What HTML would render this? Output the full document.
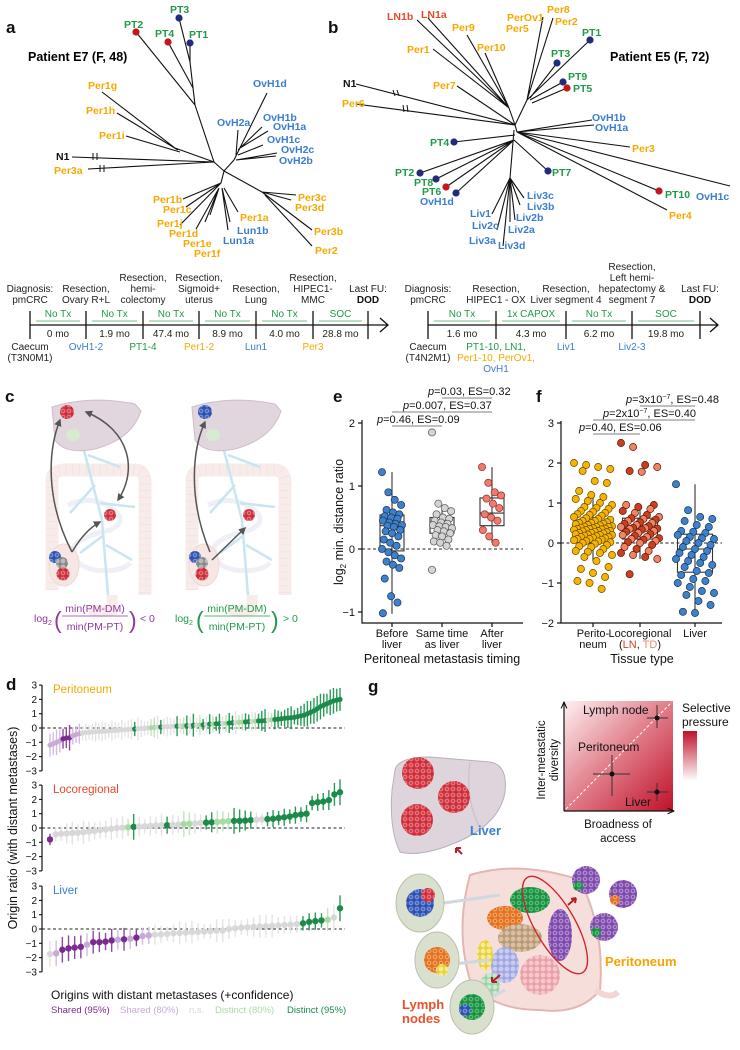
<!DOCTYPE html>
<html><head><meta charset="utf-8">
<style>
html,body{margin:0;padding:0;background:#fff;}
svg{display:block;font-family:"Liberation Sans",sans-serif;}
.t{font-size:10.5px;font-weight:bold}
.o{fill:#f6a800}.bl{fill:#3b7dd0}.g{fill:#1f9a48}.r{fill:#e64a2a}.k{fill:#111}
.pl{font-size:17px;font-weight:bold;fill:#111}
.tl{font-size:10px;fill:#222}
.ax{stroke:#111;stroke-width:1.2;fill:none}
.tk{font-size:11px;fill:#111}
</style></head><body>
<svg id="fig" width="740" height="1050" viewBox="0 0 740 1050">
<defs>
  <marker id="arr" viewBox="0 0 10 10" refX="8" refY="5" markerWidth="5" markerHeight="5" orient="auto-start-reverse"><path d="M0,0 L10,5 L0,10 Z" fill="#555"/></marker>
  <marker id="arrK" viewBox="0 0 10 10" refX="9" refY="5" markerWidth="6" markerHeight="6" orient="auto"><path d="M0,1 L9,5 L0,9" fill="none" stroke="#111" stroke-width="1.5"/></marker>
  <linearGradient id="heat" x1="0" y1="0" x2="1" y2="1"><stop offset="0" stop-color="#fdf1f2"/><stop offset="0.5" stop-color="#e07c88"/><stop offset="1" stop-color="#c0102a"/></linearGradient>
  <linearGradient id="sel" x1="0" y1="0" x2="0" y2="1"><stop offset="0" stop-color="#c0102a"/><stop offset="1" stop-color="#fff"/></linearGradient>
  <pattern id="cR" width="6" height="6" patternUnits="userSpaceOnUse"><rect width="6" height="6" fill="#c9303c"/><circle cx="3" cy="3" r="2.4" fill="#ec6f78"/><circle cx="3" cy="3" r=".7" fill="#8a1020"/></pattern>
  <pattern id="cB" width="6" height="6" patternUnits="userSpaceOnUse"><rect width="6" height="6" fill="#2f4fa8"/><circle cx="3" cy="3" r="2.4" fill="#6d8fe0"/><circle cx="3" cy="3" r=".7" fill="#1a2a6a"/></pattern>
  <pattern id="cG" width="6" height="6" patternUnits="userSpaceOnUse"><rect width="6" height="6" fill="#1e8c45"/><circle cx="3" cy="3" r="2.4" fill="#4cc070"/><circle cx="3" cy="3" r=".7" fill="#0d4a20"/></pattern>
  <pattern id="cO" width="6" height="6" patternUnits="userSpaceOnUse"><rect width="6" height="6" fill="#e4702a"/><circle cx="3" cy="3" r="2.4" fill="#f7a050"/><circle cx="3" cy="3" r=".7" fill="#8a3a10"/></pattern>
  <pattern id="cP" width="6" height="6" patternUnits="userSpaceOnUse"><rect width="6" height="6" fill="#7d4aa8"/><circle cx="3" cy="3" r="2.4" fill="#b087d6"/><circle cx="3" cy="3" r=".7" fill="#3d1a60"/></pattern>
  <pattern id="cT" width="6" height="6" patternUnits="userSpaceOnUse"><rect width="6" height="6" fill="#b89a7a"/><circle cx="3" cy="3" r="2.4" fill="#d9c0a0"/></pattern>
  <pattern id="cK" width="6" height="6" patternUnits="userSpaceOnUse"><rect width="6" height="6" fill="#e9a0a8"/><circle cx="3" cy="3" r="2.4" fill="#f6c8cc"/></pattern>
  <pattern id="cL" width="6" height="6" patternUnits="userSpaceOnUse"><rect width="6" height="6" fill="#a0a8e0"/><circle cx="3" cy="3" r="2.4" fill="#c8ccf2"/></pattern>
  <pattern id="cM" width="6" height="6" patternUnits="userSpaceOnUse"><rect width="6" height="6" fill="#9fd0a8"/><circle cx="3" cy="3" r="2.4" fill="#c8ead0"/></pattern>
  <pattern id="cY" width="6" height="6" patternUnits="userSpaceOnUse"><rect width="6" height="6" fill="#e8d040"/><circle cx="3" cy="3" r="2.4" fill="#f8ec90"/></pattern>
  <pattern id="cA" width="6" height="6" patternUnits="userSpaceOnUse"><rect width="6" height="6" fill="#888"/><circle cx="3" cy="3" r="2.4" fill="#bbb"/></pattern>
  <g id="body">
    <path d="M12,195 L12,85 Q12,75 25,75 L95,75 Q105,75 105,88 L105,200" fill="none" stroke="#f7ecea" stroke-width="13"/>
    <path d="M12,195 L12,85 Q12,75 25,75 L95,75 Q105,75 105,88 L105,200" fill="none" stroke="#efdcd8" stroke-width="11" stroke-dasharray="0.8 6" opacity=".6"/>
    <path d="M28,110 Q50,100 70,112 Q90,125 70,135 Q45,140 35,150 Q30,170 55,175 Q80,178 90,168" fill="none" stroke="#eef0f5" stroke-width="5"/>
    <path d="M72,200 L72,215 Q60,218 50,214" fill="none" stroke="#f7ecea" stroke-width="11"/>
    <path d="M40,40 L62,125 L68,200 M48,60 L80,72 M55,90 L30,118 M60,108 L95,112 M64,140 L40,158 M66,150 L92,165" fill="none" stroke="#c8e5f1" stroke-width="2.5"/>
    <path d="M12,12 Q50,0 95,9 L101,16 Q92,44 55,54 Q25,60 15,45 Z" fill="#e2d6de" stroke="#cdbdc8" stroke-width="1"/>
    <ellipse cx="33" cy="40" rx="7" ry="6" fill="#d6ebcf"/>
    <ellipse cx="24" cy="170" rx="15" ry="21" fill="#f6e7e4" stroke="#eed8d4"/>
  </g>
</defs>

<!-- ============ PANEL A ============ -->
<g>
<text class="pl" x="6" y="33">a</text>
<text x="28" y="61" font-size="12.5" font-weight="bold">Patient E7 (F, 48)</text>
<path fill="none" stroke="#111" stroke-width="1.1" d="
M214,162 L195,105 M195,105 L136,32 M195,105 L190,62 M190,62 L179,18 M190,62 L190,43 M193,88 L168,42
M214,162 L175,148 M175,148 L102,92 M178,150 L117,113 M180,152 L126,136
M214,162 L72,157 M214,162 L88,169
M214,162 L224,171 M224,171 L234,160 M234,160 L267,93 M236,155 L238,130 M238,150 L262,127 M240,148 L268,131 M238,155 L263,145 M236,160 L277,153 M236,160 L276,156
M224,171 L221,183 M221,183 L183,199 M221,183 L186,207 M221,183 L180,225 M219,188 L196,229 M219,188 L205,222 M219,188 L210,215 M222,188 L228,230 M222,188 L230,222 M224,188 L238,212
M224,171 L262,192 M262,192 L296,195 M262,192 L291,200 M262,192 L312,230 M265,195 L312,246"/>
<path d="M93,153 L93,160 M97,153 L97,160 M100,165 L100,172 M104,165 L104,172" stroke="#111" stroke-width="1"/>
<g>
<circle cx="179" cy="18" r="3.6" fill="#232c7c"/><circle cx="136" cy="32" r="3.6" fill="#c4161c"/><circle cx="168" cy="42" r="3.6" fill="#c4161c"/><circle cx="190" cy="43" r="3.6" fill="#232c7c"/>
</g>
<g class="t">
<text class="g" x="170" y="13">PT3</text><text class="g" x="124" y="28">PT2</text><text class="g" x="155" y="37">PT4</text><text class="g" x="189" y="38">PT1</text>
<text class="o" x="88" y="89">Per1g</text><text class="o" x="86" y="114">Per1h</text><text class="o" x="99" y="139">Per1i</text>
<text class="k" x="56" y="160">N1</text><text class="o" x="54" y="174">Per3a</text>
<text class="bl" x="253" y="87">OvH1d</text><text class="bl" x="217" y="126">OvH2a</text><text class="bl" x="263" y="121">OvH1b</text><text class="bl" x="273" y="130">OvH1a</text><text class="bl" x="267" y="143">OvH1c</text><text class="bl" x="281" y="153">OvH2c</text><text class="bl" x="279" y="164">OvH2b</text>
<text class="o" x="153" y="203">Per1b</text><text class="o" x="163" y="213">Per1c</text><text class="o" x="157" y="227">Per1j</text><text class="o" x="169" y="237">Per1d</text><text class="o" x="183" y="247">Per1e</text><text class="o" x="194" y="257">Per1f</text>
<text class="o" x="240" y="221">Per1a</text><text class="bl" x="237" y="234">Lun1b</text><text class="bl" x="223" y="244">Lun1a</text>
<text class="o" x="298" y="201">Per3c</text><text class="o" x="295" y="211">Per3d</text><text class="o" x="314" y="235">Per3b</text><text class="o" x="315" y="254">Per2</text>
</g>
<g id="tlA"></g>
</g>

<!-- ============ PANEL B ============ -->
<g>
<text class="pl" x="328" y="33">b</text>
<text x="610" y="61" font-size="12.5" font-weight="bold">Patient E5 (F, 72)</text>
<path fill="none" stroke="#111" stroke-width="1.1" d="
M515,125 L509,108 M509,108 L417,20 M509,108 L428,18 M509,108 L467,35 M509,108 L485,53 M509,108 L433,49
M515,125 L457,86 M515,125 L356,84 M515,125 L356,104
M515,125 L527,100 M527,100 L543,17 M527,100 L553,18 M527,100 L590,40 M530,98 L557,63 M530,100 L563,82 M532,103 L567,88
M515,125 L517,132 M517,132 L592,120 M517,132 L594,125 M517,132 L630,147 M517,132 L659,191 M517,132 L667,210 M517,132 L730,186
M515,135 L454,142 M514,140 L548,171 M514,140 L420,173 M514,140 L436,179 M514,140 L446,187 M514,140 L456,193
M514,130 L510,178 M510,178 L492,214 M510,178 L497,230 M510,178 L503,246 M510,178 L510,222 M510,178 L515,220 M510,178 L520,205 M510,178 L524,198"/>
<path d="M393,90 L395,96 M397,90 L399,96 M403,105 L404,112 M407,105 L408,112" stroke="#111" stroke-width="1"/>
<g>
<circle cx="590" cy="40" r="3.6" fill="#232c7c"/><circle cx="557" cy="63" r="3.6" fill="#232c7c"/><circle cx="563" cy="82" r="3.6" fill="#232c7c"/><circle cx="567" cy="88" r="3.6" fill="#c4161c"/>
<circle cx="454" cy="142" r="3.6" fill="#232c7c"/><circle cx="548" cy="171" r="3.6" fill="#232c7c"/><circle cx="420" cy="173" r="3.6" fill="#232c7c"/><circle cx="436" cy="179" r="3.6" fill="#232c7c"/><circle cx="446" cy="187" r="3.6" fill="#c4161c"/><circle cx="456" cy="193" r="3.6" fill="#232c7c"/><circle cx="659" cy="191" r="3.6" fill="#c4161c"/>
</g>
<g class="t">
<text class="r" x="387" y="20">LN1b</text><text class="r" x="421" y="18">LN1a</text><text class="o" x="452" y="31">Per9</text><text class="o" x="477" y="51">Per10</text><text class="o" x="407" y="53">Per1</text><text class="o" x="433" y="89">Per7</text>
<text class="o" x="507" y="21">PerOv1</text><text class="o" x="506" y="32">Per5</text><text class="o" x="547" y="13">Per8</text><text class="o" x="555" y="25">Per2</text>
<text class="g" x="582" y="36">PT1</text><text class="g" x="551" y="57">PT3</text><text class="g" x="568" y="80">PT9</text><text class="g" x="573" y="92">PT5</text>
<text class="bl" x="592" y="121">OvH1b</text><text class="bl" x="595" y="131">OvH1a</text><text class="o" x="632" y="152">Per3</text>
<text class="g" x="430" y="146">PT4</text><text class="g" x="552" y="176">PT7</text><text class="g" x="395" y="176">PT2</text><text class="g" x="414" y="186">PT8</text><text class="g" x="422" y="195">PT6</text><text class="bl" x="420" y="205">OvH1d</text>
<text class="bl" x="527" y="199">Liv3c</text><text class="bl" x="527" y="210">Liv3b</text><text class="bl" x="516" y="221">Liv2b</text><text class="bl" x="508" y="233">Liv2a</text><text class="bl" x="498" y="249">Liv3d</text><text class="bl" x="469" y="244">Liv3a</text><text class="bl" x="472" y="229">Liv2c</text><text class="bl" x="470" y="217">Liv1</text>
<text class="g" x="665" y="198">PT10</text><text class="bl" x="696" y="200">OvH1c</text><text class="o" x="669" y="219">Per4</text>
<text class="k" x="343" y="87">N1</text><text class="o" x="342" y="107">Per6</text>
</g>
<g id="tlB"></g>
</g>

<!-- ============ PANEL C ============ -->
<g>
<text class="pl" x="5" y="402">c</text>
<use href="#body" x="40" y="395"/>
<use href="#body" x="180" y="395"/>
<g>
<circle cx="67" cy="412" r="7" fill="url(#cR)"/><circle cx="110" cy="515" r="6" fill="url(#cR)"/>
<circle cx="55" cy="557" r="6" fill="url(#cB)"/><circle cx="62" cy="563" r="6" fill="url(#cA)"/><circle cx="63" cy="574" r="6.5" fill="url(#cR)"/>
<circle cx="205" cy="412" r="7" fill="url(#cB)"/><circle cx="249" cy="515" r="6" fill="url(#cR)"/>
<circle cx="195" cy="557" r="6" fill="url(#cB)"/><circle cx="202" cy="563" r="6" fill="url(#cA)"/><circle cx="202" cy="574" r="6.5" fill="url(#cR)"/>
</g>
<g fill="none" stroke="#555" stroke-width="1.5">
<path d="M72,552 C45,500 48,450 60,420" marker-end="url(#arr)"/>
<path d="M72,552 Q85,530 100,522" marker-end="url(#arr)"/>
<path d="M118,500 C138,470 130,430 86,412" marker-end="url(#arr)" marker-start="url(#arr)"/>
<path d="M210,552 C188,500 192,450 205,422" marker-end="url(#arr)"/>
<path d="M212,560 L245,528" marker-end="url(#arr)"/>
</g>
<g fill="#8e3aa0" font-size="10.5">
<text x="34" y="622">log<tspan font-size="7" dy="3">2</tspan></text>
<text x="54" y="628" font-size="23">(</text>
<text x="95" y="612" text-anchor="middle">min(PM-DM)</text>
<line x1="62" y1="616" x2="128" y2="616" stroke="#8e3aa0" stroke-width="0.8"/>
<text x="95" y="630" text-anchor="middle">min(PM-PT)</text>
<text x="129" y="628" font-size="23">)</text>
<text x="140" y="622">&lt; 0</text>
</g>
<g fill="#1f9a48" font-size="10.5">
<text x="175" y="622">log<tspan font-size="7" dy="3">2</tspan></text>
<text x="196" y="628" font-size="23">(</text>
<text x="237" y="612" text-anchor="middle">min(PM-DM)</text>
<line x1="204" y1="616" x2="270" y2="616" stroke="#1f9a48" stroke-width="0.8"/>
<text x="237" y="630" text-anchor="middle">min(PM-PT)</text>
<text x="271" y="628" font-size="23">)</text>
<text x="283" y="622">&gt; 0</text>
</g>
</g>

<text class="pl" x="333" y="402">e</text>
<text class="pl" x="536" y="402">f</text>
<text class="pl" x="6" y="690">d</text>
<g id="pe"></g>
<g id="pf"></g>
<g id="pd"></g>

<!-- ============ PANEL G ============ -->
<g>
<text class="pl" x="368" y="692">g</text>
<g>
<rect x="564" y="701" width="109" height="110" fill="url(#heat)"/>
<line x1="566" y1="809" x2="672" y2="702" stroke="#fff" stroke-width="1" stroke-dasharray="3 2"/>
<path d="M564,811 L564,702" class="ax" marker-end="url(#arrK)"/>
<path d="M564,811 L674,811" class="ax" marker-end="url(#arrK)"/>
<g stroke="#333" stroke-width="1"><line x1="647" y1="718" x2="668" y2="718"/><line x1="657" y1="705" x2="657" y2="728"/>
<line x1="593" y1="774" x2="630" y2="774"/><line x1="612" y1="755" x2="612" y2="796"/>
<line x1="647" y1="792" x2="668" y2="792"/><line x1="657" y1="783" x2="657" y2="801"/></g>
<circle cx="657" cy="718" r="2.5" fill="#111"/><circle cx="612" cy="774" r="2.5" fill="#111"/><circle cx="657" cy="792" r="2.5" fill="#111"/>
<text x="583" y="714" font-size="12" fill="#111">Lymph node</text>
<text x="578" y="751" font-size="12" fill="#111">Peritoneum</text>
<text x="625" y="806" font-size="12" fill="#111">Liver</text>
<text transform="translate(545,760) rotate(-90)" text-anchor="middle" font-size="11.5" fill="#111">Inter-metastatic</text>
<text transform="translate(558,760) rotate(-90)" text-anchor="middle" font-size="11.5" fill="#111">diversity</text>
<text x="618" y="828" text-anchor="middle" font-size="11.5" fill="#111">Broadness of</text>
<text x="618" y="842" text-anchor="middle" font-size="11.5" fill="#111">access</text>
<text x="682" y="712" font-size="12" fill="#111">Selective</text>
<text x="682" y="726" font-size="12" fill="#111">pressure</text>
<rect x="683" y="731" width="14" height="50" fill="url(#sel)"/>
</g>
<g>
<path d="M395,770 Q398,757 430,757 L490,762 Q508,765 505,792 Q500,822 462,840 Q422,858 400,852 Q389,830 392,790 Z" fill="#ded4dc" stroke="#bcaeba"/>
<path d="M470,762 Q465,800 480,828" fill="none" stroke="#c9bcc6"/>
<circle cx="418" cy="773" r="16" fill="url(#cR)"/><circle cx="454" cy="797" r="16" fill="url(#cR)"/><circle cx="417" cy="820" r="16" fill="url(#cR)"/>
<text x="470" y="835" font-size="13" font-weight="bold" fill="#3b7dd0">Liver</text>
<path d="M462,854 L456,848 M456,848 L456,853 M456,848 L461,848" stroke="#b0202a" stroke-width="2"/>
</g>
<g>
<path d="M470,875 Q520,860 580,880 Q605,930 600,990 Q580,1015 540,1010 Q490,1010 470,980 Q455,930 470,875 Z" fill="#f6dedb" stroke="#e2b7b2" stroke-width="2"/>
<path d="M595,990 Q610,1000 618,992" fill="none" stroke="#f2d6d2" stroke-width="6"/>
<ellipse cx="530" cy="900" rx="20" ry="13" fill="url(#cG)"/>
<ellipse cx="505" cy="918" rx="18" ry="12" fill="url(#cO)"/>
<ellipse cx="520" cy="938" rx="22" ry="14" fill="url(#cT)"/>
<ellipse cx="560" cy="935" rx="12" ry="26" fill="url(#cP)"/>
<ellipse cx="505" cy="965" rx="14" ry="18" fill="url(#cL)"/>
<ellipse cx="540" cy="975" rx="20" ry="20" fill="url(#cK)"/>
<ellipse cx="485" cy="955" rx="8" ry="15" fill="url(#cY)"/>
<ellipse cx="490" cy="985" rx="10" ry="12" fill="url(#cM)"/>
<ellipse cx="555" cy="925" rx="20" ry="55" transform="rotate(-30 555 925)" fill="none" stroke="#d0202a" stroke-width="1.3"/>
<path d="M500,895 L430,905 M490,960 L445,965 M505,990 L478,1005" stroke="#cfd8e0" stroke-width="3"/>
<ellipse cx="420" cy="903" rx="24" ry="29" fill="#d9e0cd" stroke="#b9c2ac"/>
<circle cx="420" cy="903" r="14" fill="url(#cB)"/><circle cx="428" cy="895" r="7" fill="url(#cR)"/>
<ellipse cx="437" cy="960" rx="22" ry="28" fill="#d9e0cd" stroke="#b9c2ac"/>
<circle cx="437" cy="960" r="13" fill="url(#cO)"/><circle cx="442" cy="970" r="6" fill="url(#cY)"/>
<ellipse cx="472" cy="1007" rx="22" ry="27" fill="#d9e0cd" stroke="#b9c2ac"/>
<circle cx="472" cy="1007" r="13" fill="url(#cG)"/><circle cx="465" cy="1010" r="6" fill="url(#cB)"/>
<circle cx="586" cy="880" r="14" fill="url(#cP)"/><circle cx="578" cy="886" r="5" fill="url(#cG)"/>
<circle cx="623" cy="894" r="14" fill="url(#cP)"/><circle cx="615" cy="900" r="5" fill="url(#cO)"/>
<circle cx="604" cy="927" r="14" fill="url(#cP)"/><circle cx="596" cy="932" r="5" fill="url(#cG)"/>
<path d="M568,905 L576,898 M576,898 L571,899 M576,898 L575,903" stroke="#b0202a" stroke-width="2"/>
<path d="M500,975 L492,982 M492,982 L497,982 M492,982 L492,977" stroke="#b0202a" stroke-width="2"/>
<text x="605" y="966" font-size="13" font-weight="bold" fill="#f5a300">Peritoneum</text>
<text x="402" y="1009" font-size="13" font-weight="bold" fill="#e8512a">Lymph</text>
<text x="402" y="1023" font-size="13" font-weight="bold" fill="#e8512a">nodes</text>
</g>
</g>
</svg>

<script>
const NS='http://www.w3.org/2000/svg';
function mk(tag,parent,attrs){const e=document.createElementNS(NS,tag);for(const k in (attrs||{}))e.setAttribute(k,attrs[k]);parent.appendChild(e);return e;}

/* ===== timelines ===== */
const tlA_ticks=[30,86,143,199,256,313,368];
const tlA_heads=[["Diagnosis:","pmCRC"],["Resection,","Ovary R+L"],["Resection,","hemi-","colectomy"],["Resection,","Sigmoid+","uterus"],["Resection,","Lung"],["Resection,","HIPEC1-","MMC"],["Last FU:","DOD"]];
const tlA_tx=["No Tx","No Tx","No Tx","No Tx","No Tx","SOC"];
const tlA_mo=["0 mo","1.9 mo","47.4 mo","8.9 mo","4.0 mo","28.8 mo"];
const tlA_below=[[["Caecum","#222"],["(T3N0M1)","#222"]],[["OvH1-2","#3b7dd0"]],[["PT1-4","#1f9a48"]],[["Per1-2","#f6a800"]],[["Lun1","#3b7dd0"]],[["Per3","#f6a800"]],[]];
const tlB_ticks=[428,496,566,632,700];
const tlB_heads=[["Diagnosis:","pmCRC"],["Resection,","HIPEC1 - OX"],["Resection,","Liver segment 4"],["Resection,","Left hemi-","hepatectomy &","segment 7"],["Last FU:","DOD"]];
const tlB_tx=["No Tx","1x CAPOX","No Tx","SOC"];
const tlB_mo=["1.6 mo","4.3 mo","6.2 mo","19.8 mo"];
const tlB_below=[[["Caecum","#222"],["(T4N2M1)","#222"]],[["PT1-10, LN1,","#1f9a48"],["Per1-10, PerOv1,","#f6a800"],["OvH1","#3b7dd0"]],[["Liv1","#3b7dd0"]],[["Liv2-3","#3b7dd0"]],[]];
function timeline(g,ticks,heads,tx,mo,below,end){
  const y=325;
  const ax=mk('line',g,{x1:ticks[0],y1:y,x2:end,y2:y,stroke:'#111','stroke-width':1.3});
  
  
  mk('path',g,{d:`M${end-8},${y-7} L${end},${y} L${end-8},${y+7}`,fill:'none',stroke:'#111','stroke-width':1.3});
  ticks.forEach((x,i)=>{
    const tk=mk('line',g,{x1:x,y1:311,x2:x,y2:339,stroke:'#111','stroke-width':1.3});
    
    
    const h=heads[i];
    h.forEach((s,j)=>{const t=mk('text',g,{x:x,y:303-(h.length-1-j)*11,'text-anchor':'middle','font-size':10,fill:'#222'});
      if(s==='DOD'){t.setAttribute('font-weight','bold');t.setAttribute('fill','#111');}
      t.textContent=s;
      
      });
    (below[i]||[]).forEach((s,j)=>{const t=mk('text',g,{x:x,y:350+j*11,'text-anchor':'middle','font-size':10,fill:s[1]});t.textContent=s[0];
      
      });
    if(i<tx.length){
      const c=(x+ticks[i+1])/2;
      const t1=mk('text',g,{x:c,y:317,'text-anchor':'middle','font-size':10,fill:'#1f9a48'});t1.textContent=tx[i];
      
      
      mk('line',g,{x1:x+6,y1:321,x2:ticks[i+1]-6,y2:321,stroke:'#9fd8ad','stroke-width':1.4});
      const t2=mk('text',g,{x:c,y:337,'text-anchor':'middle','font-size':10,fill:'#222'});t2.textContent=mo[i];
      
      
    }
  });
}
timeline(document.getElementById('tlA'),tlA_ticks,tlA_heads,tlA_tx,tlA_mo,tlA_below,388);
timeline(document.getElementById('tlB'),tlB_ticks,tlB_heads,tlB_tx,tlB_mo,tlB_below,718);

/* ===== panel e data ===== */
const eGroups=["Before|liver","Same time|as liver","After|liver"];
const eBefore=[1.22,0.9,0.78,0.7,0.62,0.58,0.55,0.52,0.5,0.48,0.45,0.42,0.4,0.38,0.37,0.35,0.3,0.28,0.25,0.2,0.15,0.1,0.05,0,-0.05,-0.1,-0.15,-0.2,-0.25,-0.3,-0.47,-0.75,-0.85,-1.02];
const eSame=[1.85,0.72,0.65,0.6,0.55,0.5,0.48,0.45,0.42,0.4,0.38,0.36,0.35,0.33,0.3,0.28,0.25,0.22,0.2,0.15,0.12,0.1,0.05,-0.33];
const eAfter=[1.3,1.05,0.9,0.85,0.8,0.72,0.65,0.55,0.5,0.45,0.3,0.2,0.1];
const eQ1=[-0.03,0.25,0.37];
const eMed=[0.37,0.37,0.57];
const eQ3=[0.54,0.5,0.81];
const eLo=[-1.03,0.12,0.1];
const eHi=[1.22,0.7,1.3];
const eTicks=[-1,0,1,2];
const ePvals=["0.46, ES=0.09","0.007, ES=0.37","0.03, ES=0.32"];

/* ===== panel f data ===== */
const fGroups=["Perito-|neum","Locoregional|(LN, TD)","Liver"];
const fPeri=[2.0,1.95,1.9,1.85,1.8,1.55,1.5,1.3,1.2,1.15,1.1,1.05,1.0,0.95,0.9,0.88,0.85,0.8,0.78,0.75,0.72,0.7,0.68,0.65,0.62,0.6,0.58,0.55,0.55,0.52,0.5,0.5,0.48,0.47,0.45,0.44,0.42,0.41,0.4,0.4,0.38,0.37,0.36,0.35,0.35,0.34,0.33,0.32,0.3,0.3,0.29,0.28,0.27,0.25,0.25,0.24,0.22,0.21,0.2,0.2,0.18,0.17,0.15,0.15,0.13,0.12,0.1,0.1,0.08,0.07,0.05,0.04,0.02,0,-0.02,-0.05,-0.08,-0.1,-0.15,-0.2,-0.22,-0.25,-0.3,-0.35,-0.45,-0.6,-0.65,-0.75,-0.85,-0.95,-1.0,-1.15];
const fLoco=[2.5,2.4,1.95,1.9,1.8,1.78,0.95,0.95,0.9,0.85,0.8,0.75,0.7,0.65,0.62,0.6,0.58,0.55,0.52,0.5,0.48,0.45,0.42,0.4,0.38,0.37,0.36,0.35,0.33,0.3,0.28,0.25,0.22,0.2,0.18,0.15,0.12,0.1,0.08,0.05,0.02,0,-0.05,-0.1,-0.15,-0.2,-0.25,-0.3,-0.35,-0.4,-0.78];
const fLiver=[1.47,0.82,0.65,0.6,0.55,0.45,0.4,0.3,0.28,0.25,0.2,0.15,0.12,0.1,0.05,0,-0.05,-0.1,-0.15,-0.2,-0.25,-0.3,-0.35,-0.4,-0.45,-0.5,-0.55,-0.6,-0.7,-0.75,-0.8,-0.9,-0.95,-1.0,-1.1,-1.2,-1.25,-1.3,-1.45,-1.55,-1.72,-1.75];
const fQ1=[0.08,0.1,-0.73];
const fMed=[0.35,0.37,-0.15];
const fQ3=[0.54,0.62,0.22];
const fLo=[-0.45,-0.4,-1.73];
const fHi=[1.22,0.98,1.47];
const fTicks=[-2,-1,0,1,2,3];

function boxPanel(g,cfg){
  const {x0,x1,yf,ticks,centers,hw,groups,series,fills,strokes,q1,med,q3,lo,hi,spread,yTop,yBot}=cfg;
  const a=mk('path',g,{d:`M${x0},${yTop} L${x0},${yBot} L${x1},${yBot}`,class:'ax'});
  
  
  ticks.forEach(v=>{
    mk('line',g,{x1:x0-4,y1:yf(v),x2:x0,y2:yf(v),stroke:'#111','stroke-width':1.2});
    const t=mk('text',g,{x:x0-7,y:yf(v)+4,'text-anchor':'end',class:'tk'});t.textContent=v<0?'\u2212'+(-v):String(v);
    
    
  });
  const z=mk('line',g,{x1:x0,y1:yf(0),x2:x1,y2:yf(0),stroke:'#222','stroke-width':1,'stroke-dasharray':'3 2.5'});
  
  
  centers.forEach((cx,i)=>{
    mk('line',g,{x1:cx,y1:yBot,x2:cx,y2:yBot+4,stroke:'#111','stroke-width':1.2});
    groups[i].split('|').forEach((s,j)=>{
      const t=mk('text',g,{x:cx,y:637+j*11,'text-anchor':'middle','font-size':11,fill:'#111'});
      if(s==='(LN, TD)'){t.innerHTML='(<tspan fill="#d8401f">LN</tspan>, <tspan fill="#f08a6a">TD</tspan>)';}else t.textContent=s;
      
      
    });
    const bg=mk('g',g,{});
    
    
    mk('line',bg,{x1:cx,y1:yf(hi[i]),x2:cx,y2:yf(lo[i]),stroke:'#333','stroke-width':1.1});
    mk('rect',bg,{x:cx-hw,y:yf(q3[i]),width:2*hw,height:yf(q1[i])-yf(q3[i]),fill:'none',stroke:'#333','stroke-width':1.1});
    mk('line',bg,{x1:cx-hw,y1:yf(med[i]),x2:cx+hw,y2:yf(med[i]),stroke:'#333','stroke-width':1.1});
    series[i].forEach((v,k)=>{
      const jit=(((k*53)%23)-11)/11*spread;
      const c=mk('circle',g,{cx:cx+jit,cy:yf(v),r:3.6,fill:typeof fills[i]==='function'?fills[i](k):fills[i],stroke:strokes[i],'stroke-width':0.7});
      
      
    });
  });
}
const eY=v=>549-v*63;
boxPanel(document.getElementById('pe'),{x0:362,x1:523,yf:eY,ticks:eTicks,centers:[392,442,492],hw:12,groups:eGroups,series:[eBefore,eSame,eAfter],
  fills:['#3d80cc','#d4d4d4','#f07a6e'],strokes:['#1d3550','#555','#8a2e28'],q1:eQ1,med:eMed,q3:eQ3,lo:eLo,hi:eHi,spread:10,yTop:420,yBot:623});
const fY=v=>543-v*40;
boxPanel(document.getElementById('pf'),{x0:561,x1:722,yf:fY,ticks:fTicks,centers:[593,640,695],hw:17.5,groups:fGroups,series:[fPeri,fLoco,fLiver],
  fills:['#f5b400',k=>k%2?'#f08566':'#c8401f','#3d80cc'],strokes:['#6a4a00','#5a1a0a','#1d3550'],q1:fQ1,med:fMed,q3:fQ3,lo:fLo,hi:fHi,spread:19,yTop:421,yBot:623});

(function(){
  const pe=document.getElementById('pe'), pf=document.getElementById('pf');
  const t=mk('text',pe,{transform:'translate(343,522) rotate(-90)','text-anchor':'middle','font-size':12.5,fill:'#111'});
  t.innerHTML='log<tspan font-size="8" dy="3">2</tspan><tspan dy="-3"> min. distance ratio</tspan>';
  
  
  const xt=mk('text',pe,{x:442,y:663,'text-anchor':'middle','font-size':12.5,fill:'#111'});xt.textContent='Peritoneal metastasis timing';
  
  
  const xf=mk('text',pf,{x:642,y:663,'text-anchor':'middle','font-size':12.5,fill:'#111'});xf.textContent='Tissue type';
  
  
  const eAnn=[[377,423,426,392,442,ePvals[0]],[403,409,412,392,492,ePvals[1]],[428,395,398,442,492,ePvals[2]]];
  eAnn.forEach(a=>{const tt=mk('text',pe,{x:a[0],y:a[1],'font-size':11,fill:'#111'});tt.innerHTML='<tspan font-style="italic">p</tspan>='+a[5];
    
    
    mk('line',pe,{x1:a[3],y1:a[2],x2:a[4],y2:a[2],stroke:'#999','stroke-width':1.2});});
  const fAnn=[[579,431,434,593,640,'0.40, ES=0.06'],[603,417,420,593,695,'2x10<tspan font-size="7" dy="-4">\u22127</tspan><tspan dy="4">, ES=0.40</tspan>'],[626,403,406,640,695,'3x10<tspan font-size="7" dy="-4">\u22127</tspan><tspan dy="4">, ES=0.48</tspan>']];
  fAnn.forEach(a=>{const tt=mk('text',pf,{x:a[0],y:a[1],'font-size':11,fill:'#111'});tt.innerHTML='<tspan font-style="italic">p</tspan>='+a[5];
    
    
    mk('line',pf,{x1:a[3],y1:a[2],x2:a[4],y2:a[2],stroke:'#999','stroke-width':1.2});});
})();

/* ===== panel d data ===== */
const dPeriVals=[-1.2,-1.1,-1.0,-0.9,-0.75,-0.7,-0.68,-0.55,-0.45,-0.4,-0.35,-0.32,-0.3,-0.28,-0.26,-0.25,-0.23,-0.22,-0.2,-0.18,-0.17,-0.15,-0.13,-0.12,-0.1,-0.08,-0.07,-0.05,-0.03,-0.02,0,0.02,0.04,0.05,0.07,0.08,0.1,0.1,0.12,0.13,0.15,0.15,0.17,0.18,0.2,0.2,0.22,0.23,0.25,0.27,0.28,0.3,0.3,0.32,0.33,0.35,0.37,0.38,0.4,0.42,0.43,0.45,0.46,0.48,0.5,0.5,0.52,0.55,0.57,0.6,0.62,0.65,0.68,0.7,0.72,0.75,0.8,0.85,0.9,1.0,1.1,1.2,1.35,1.5,1.6,1.7,1.8,1.9,1.95,2.0];
const dPeriCat="1111222111nnnnnnnnnnnnnnnnbnnnnaanbnnnnbnabnbnabnbabbnabbnaabbnabbbnabbbbbbbbbbbbbbbbbbbbb".split('');
const dPeriErr="889877966756567676576575675865567856765756768574676575675856657657865765678567898999879988".split('');
const dLocoVals=[-0.8,-0.45,-0.4,-0.38,-0.35,-0.33,-0.3,-0.25,-0.2,-0.15,-0.1,-0.05,0,0.02,0.05,0.08,0.1,0.12,0.15,0.18,0.2,0.2,0.22,0.25,0.28,0.3,0.32,0.35,0.38,0.4,0.42,0.45,0.48,0.5,0.5,0.52,0.55,0.58,0.6,0.62,0.65,0.7,0.75,0.8,0.9,0.95,1.0,1.75,1.8,1.85,1.95,2.35,2.5];
const dLocoCat="2nnnnnnnnnnnnnabnnnnnbnnaannbbaaabbbbnnbbbbbbbbbbbbbb".split('');
const dLocoErr="45578687666878697576867698765787698765456565656566789".split('');
const dLiverVals=[-1.75,-1.7,-1.45,-1.35,-1.3,-1.25,-1.1,-0.92,-0.92,-0.88,-0.8,-0.75,-0.72,-0.68,-0.6,-0.5,-0.45,-0.4,-0.38,-0.35,-0.3,-0.28,-0.25,-0.22,-0.2,-0.18,-0.15,-0.12,-0.1,0,0.05,0.1,0.12,0.15,0.18,0.2,0.22,0.25,0.28,0.3,0.35,0.4,0.5,0.55,0.6,0.65,0.8,1.45];
const dLiverCat="n1222212222121211nnnnnnnnnnnnnnnnnnnnnnnnbbbbanb".split('');
const dLiverErr="999988887687876667656878655887656788866665665899".split('');
const dTicks=[-3,-2,-1,0,1,2,3];
const dPanels=[["Peritoneum","#f6a800"],["Locoregional","#e8482a"],["Liver","#3b7dd0"]];
const dLegend=[["Shared (95%)","2"],["Shared (80%)","1"],["n.s.","n"],["Distinct (80%)","a"],["Distinct (95%)","b"]];
const dCol={"2":"#7b2a8f","1":"#c8aad6","n":"#d8d8d8","a":"#a8dba3","b":"#1b8a4a"};
const dBar={"2":"#8e4aa0","1":"#d2bde0","n":"#e4e4e4","a":"#bfe6bb","b":"#2a9a58"};
(function(){
  const pd=document.getElementById('pd');
  const zeros=[728,828,929], sc=14.3, ax=42, xs=50, xe=340;
  const sets=[[dPeriVals,dPeriCat,dPeriErr],[dLocoVals,dLocoCat,dLocoErr],[dLiverVals,dLiverCat,dLiverErr]];
  sets.forEach((s,p)=>{
    const z=zeros[p], yf=v=>z-v*sc;
    const g=mk('g',pd,{});
    
    
    const a=mk('line',g,{x1:ax,y1:yf(3),x2:ax,y2:yf(-3),stroke:'#111','stroke-width':1.2});
    
    
    dTicks.forEach(v=>{mk('line',g,{x1:ax-3,y1:yf(v),x2:ax,y2:yf(v),stroke:'#111','stroke-width':1.1});
      const t=mk('text',g,{x:ax-5,y:yf(v)+3.5,'text-anchor':'end','font-size':10,fill:'#111'});t.textContent=v<0?'\u2212'+(-v):String(v);
      
      });
    const zl=mk('line',g,{x1:ax,y1:z,x2:345,y2:z,stroke:'#222','stroke-width':1,'stroke-dasharray':'3 2.5'});
    
    
    const lab=mk('text',g,{x:53,y:z-35,'font-size':11.5,fill:dPanels[p][1]});lab.textContent=dPanels[p][0];
    
    
    const vals=s[0], n=vals.length, step=(xe-xs)/(n-1);
    vals.forEach((v,i)=>{
      const x=xs+i*step, h=(+s[2][i])/10, c=s[1][i];
      const bar=mk('line',g,{x1:x,y1:yf(v-h),x2:x,y2:yf(v+h),stroke:dBar[c],'stroke-width':1.4});
      
      
    });
    vals.forEach((v,i)=>{
      const x=xs+i*step, c=s[1][i];
      const pt=mk('circle',g,{cx:x,cy:yf(v),r:p===0?2.6:3.2,fill:dCol[c]});
      
      
    });
  });
  const yt=mk('text',pd,{transform:'translate(17,828) rotate(-90)','text-anchor':'middle','font-size':12.5,fill:'#111'});yt.textContent='Origin ratio (with distant metastases)';
  
  
  const lt=mk('text',pd,{x:51,y:999,'font-size':12,fill:'#111'});lt.textContent='Origins with distant metastases (+confidence)';
  
  
  const lx=[51,120,189,215,287];
  dLegend.forEach((e,i)=>{const t=mk('text',pd,{x:lx[i],y:1013,'font-size':9.5,fill:dCol[e[1]]});t.textContent=e[0];
    
    });
})();
</script>
</body></html>
